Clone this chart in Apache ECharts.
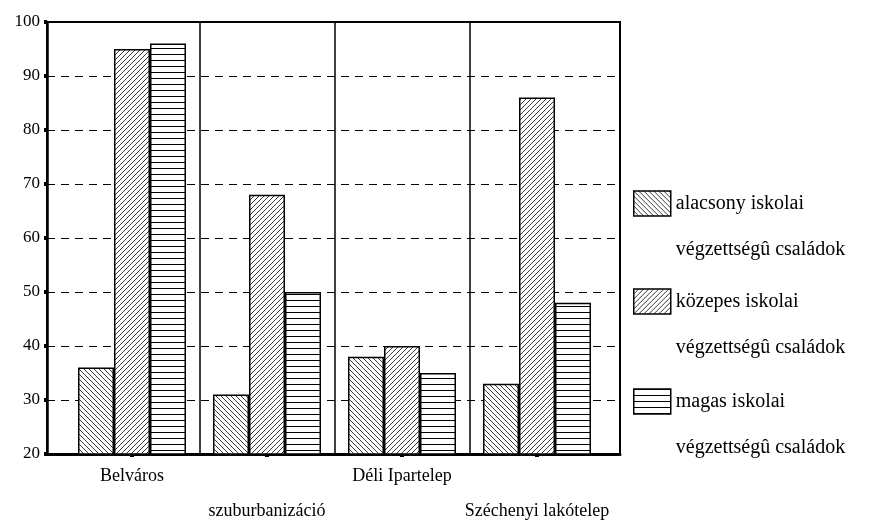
<!DOCTYPE html>
<html>
<head>
<meta charset="utf-8">
<script src="https://cdn.jsdelivr.net/npm/echarts@6/dist/echarts.min.js"></script>
<style>html,body{margin:0;padding:0;background:#fff}#c{width:872px;height:521px}</style>
</head>
<body>
<div id="c"></div>
<script>
var categories = ['Belváros', 'szuburbanizáció', 'Déli Ipartelep', 'Széchenyi lakótelep'];
var seriesNames = ['alacsony iskolai\nvégzettségû családok', 'közepes iskolai\nvégzettségû családok', 'magas iskolai\nvégzettségû családok'];
var alacsony = [36, 31, 38, 33];
var kozepes = [95, 68, 40, 86];
var magas = [96, 50, 35, 48];
var yTicks = [20, 30, 40, 50, 60, 70, 80, 90, 100];

function makePattern(kind) {
  var c = document.createElement('canvas');
  var ctx;
  if (kind === 'h') {
    c.width = 6; c.height = 6;
    ctx = c.getContext('2d');
    ctx.fillStyle = '#fff'; ctx.fillRect(0, 0, 6, 6);
    ctx.fillStyle = '#000'; ctx.fillRect(0, 0, 6, 1);
  } else {
    var n = 5;
    c.width = n; c.height = n;
    ctx = c.getContext('2d');
    ctx.fillStyle = '#fff'; ctx.fillRect(0, 0, n, n);
    ctx.fillStyle = '#3a3a3a';
    for (var i = 0; i < n; i++) {
      var x = kind === 'back' ? i : n - 1 - i;
      ctx.fillRect(x, i, 1, 1);
    }
  }
  return { image: c, repeat: 'repeat' };
}
var patterns = [makePattern('back'), makePattern('fwd'), makePattern('h')];
var dataSets = [alacsony, kozepes, magas];

var font = 'Liberation Serif';
var chart = echarts.init(document.getElementById('c'), null, { renderer: 'canvas' });

var series = dataSets.map(function (d, i) {
  return {
    name: seriesNames[i],
    type: 'bar',
    xAxisIndex: 1,
    yAxisIndex: 1,
    data: d,
    barWidth: 36,
    barGap: '0%',
    itemStyle: { color: patterns[i], borderColor: '#000', borderWidth: 1.5 },
    emphasis: { disabled: true },
    animation: false
  };
});

var legendTops = [129.5, 227.5, 327.5];
var legends = seriesNames.map(function (n, i) {
  return {
    data: [n],
    left: 628,
    top: legendTops[i],
    orient: 'vertical',
    icon: 'rect',
    itemWidth: 37,
    itemHeight: 25,
    selectedMode: false,
    formatter: function (name) { return ' \n' + name; },
    itemStyle: { borderColor: '#000', borderWidth: 1.5 },
    textStyle: { fontFamily: font, fontSize: 20, color: '#000', lineHeight: 46 }
  };
});

chart.setOption({
  animation: false,
  backgroundColor: '#fff',
  legend: legends,
  grid: [
    { left: 47, top: 22, width: 573, height: 432, show: true, borderColor: '#000', borderWidth: 2, containLabel: false, outerBoundsMode: 'none' },
    { left: 64.5, top: 22, width: 540, height: 432, containLabel: false, outerBoundsMode: 'none' }
  ],
  xAxis: [
    { gridIndex: 0, type: 'value', min: 0, max: 1, show: true,
      axisLine: { show: true, onZero: false, lineStyle: { color: '#000', width: 3 } },
      axisTick: { show: false }, axisLabel: { show: false }, splitLine: { show: false } },
    { gridIndex: 1, type: 'category', data: categories,
      axisLine: { show: false },
      axisTick: { show: true, alignWithLabel: true, length: 3, lineStyle: { color: '#000', width: 4 } },
      axisLabel: { interval: 0, fontFamily: font, fontSize: 18, color: '#000', lineHeight: 35, margin: 5,
        formatter: function (v, idx) { return idx % 2 === 1 ? '\n' + v : v; } },
      splitLine: { show: true, interval: 0, showMinLine: false, showMaxLine: false, lineStyle: { color: '#000', width: 1.5 } } }
  ],
  yAxis: [
    { gridIndex: 0, type: 'value', min: 20, max: 100, interval: 10,
      axisLine: { show: true, lineStyle: { color: '#000', width: 2.5 } },
      axisTick: { show: true, length: 3, lineStyle: { color: '#000', width: 4 } },
      axisLabel: { fontFamily: font, fontSize: 17, color: '#000', margin: 7,
        formatter: function (v) { return yTicks.indexOf(v) >= 0 ? String(v) : ''; } },
      splitLine: { show: true, lineStyle: { color: '#000', width: 1.2, type: [8, 6] } } },
    { gridIndex: 1, type: 'value', min: 20, max: 100, interval: 10, show: false }
  ],
  series: series
});
</script>
</body>
</html>
